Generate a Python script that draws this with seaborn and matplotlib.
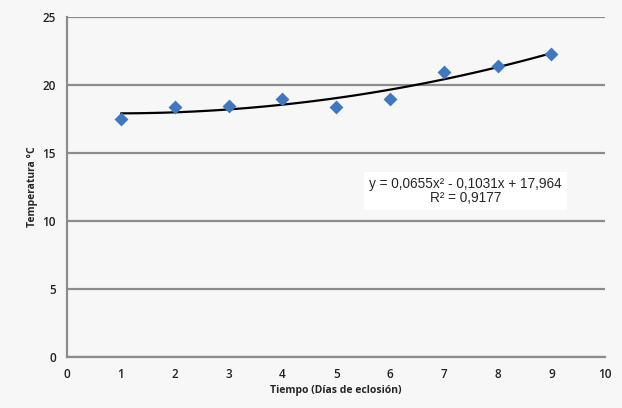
import numpy as np
import pandas as pd
import seaborn as sns
import matplotlib
matplotlib.use('Agg')
from matplotlib import pyplot as plt

dias = [1, 2, 3, 4, 5, 6, 7, 8, 9]
temperatura = [17.5, 18.4, 18.5, 19.0, 18.4, 19.0, 21.0, 21.4, 22.3]
ecuacion = 'y = 0,0655x² - 0,1031x + 17,964'
r2_txt = 'R² = 0,9177'

df = pd.DataFrame({'dias': dias, 'temp': temperatura})

sns.set_style('white')
plt.rcParams['font.family'] = ['Open Sans', 'DejaVu Sans']

fig = plt.figure(figsize=(6.22, 4.08), dpi=100)
fig.patch.set_facecolor('#f7f7f7')
ax = fig.add_axes([0.108, 0.125, 0.865, 0.833])
ax.set_facecolor('#f7f7f7')

sns.regplot(data=df, x='dias', y='temp', order=2, ci=None, marker='D',
            scatter_kws={'s': 50, 'color': '#3f78c0', 'alpha': 1, 'zorder': 4, 'linewidths': 0},
            line_kws={'color': 'black', 'lw': 1.6, 'zorder': 3}, ax=ax)

ax.set(xlim=(0, 10), ylim=(0, 25), xticks=range(0, 11), yticks=range(0, 26, 5))
ax.yaxis.grid(True, color='#8c8c8c', lw=1.6)
ax.set_axisbelow(True)
for s in ['top', 'right']:
    ax.spines[s].set_visible(False)
for s in ['left', 'bottom']:
    ax.spines[s].set_color('#8c8c8c')
    ax.spines[s].set_linewidth(1.6)
ax.tick_params(axis='both', length=0, labelsize=8.5, colors='#222222', pad=8)
for lab in ax.get_xticklabels() + ax.get_yticklabels():
    lab.set_fontweight('semibold')
ax.set_xlabel('Tiempo (Días de eclosión)', fontsize=7.5, fontweight='bold', labelpad=3)
ax.set_ylabel('Temperatura °C', fontsize=7.5, fontweight='bold', labelpad=3)

ax.text(7.4, 12.2, ecuacion + '\n' + r2_txt, ha='center', va='center',
        fontsize=9.8, family=['Liberation Sans', 'DejaVu Sans'], linespacing=0.95,
        bbox=dict(boxstyle='square,pad=0.4', fc='white', ec='none'), zorder=5)

fig.savefig('out.png', dpi=100, facecolor=fig.get_facecolor())
